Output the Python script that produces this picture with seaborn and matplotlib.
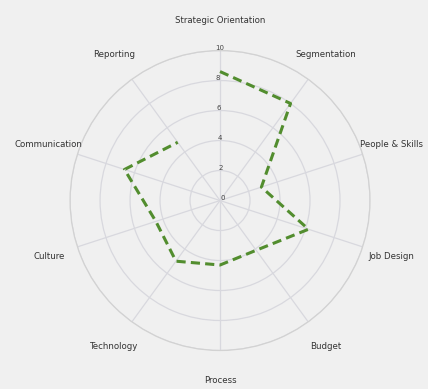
import numpy as np
import pandas as pd
import matplotlib
matplotlib.use("Agg")
import matplotlib.pyplot as plt
import seaborn as sns

# Assessment dimensions, clockwise from the top
categories = [
    "Strategic Orientation", "Segmentation", "People & Skills", "Job Design",
    "Budget", "Process", "Technology", "Culture", "Communication", "Reporting",
]
scores = [8.6, 8.0, 2.9, 6.2, 4.1, 4.3, 5.0, 4.5, 6.7, 4.8]
radial_ticks = [0, 2, 4, 6, 8, 10]

sns.set_theme(style="white")
plt.rcParams["font.family"] = ["DejaVu Sans"]

bg = "#f0f0f0"
fig = plt.figure(figsize=(4.28, 3.89), dpi=100, facecolor=bg)
ax = fig.add_axes([0.1636, 0.099, 0.701, 0.771], projection="polar", facecolor=bg)
ax.set_theta_zero_location("N")
ax.set_theta_direction(-1)

n = len(categories)
angles = np.linspace(0, 2 * np.pi, n, endpoint=False)
df = pd.DataFrame({
    "angle": np.append(angles, angles[0]),
    "score": scores + [scores[0]],
})

sns.lineplot(data=df, x="angle", y="score", sort=False, ax=ax,
             color="#528d2e", linewidth=2.2, linestyle=(0, (3.0, 1.7)))

ax.set_ylim(0, 10)
ax.set_yticks(radial_ticks)
ax.set_yticklabels([str(t) for t in radial_ticks], fontsize=5, color="#444444")
ax.set_rlabel_position(358)
ax.set_xticks(angles)
ax.set_xticklabels([])
ax.grid(True, color="#d8d8de", linewidth=0.9)
ax.spines["polar"].set_color("#d2d2d2")
ax.spines["polar"].set_linewidth(0.9)
ax.set_xlabel("")
ax.set_ylabel("")

for ang, label in zip(angles, categories):
    ax.text(ang, 12.0, label, ha="center", va="center", fontsize=6.2,
            color="#333333", clip_on=False)

fig.savefig("out.png", dpi=100, facecolor=bg)
